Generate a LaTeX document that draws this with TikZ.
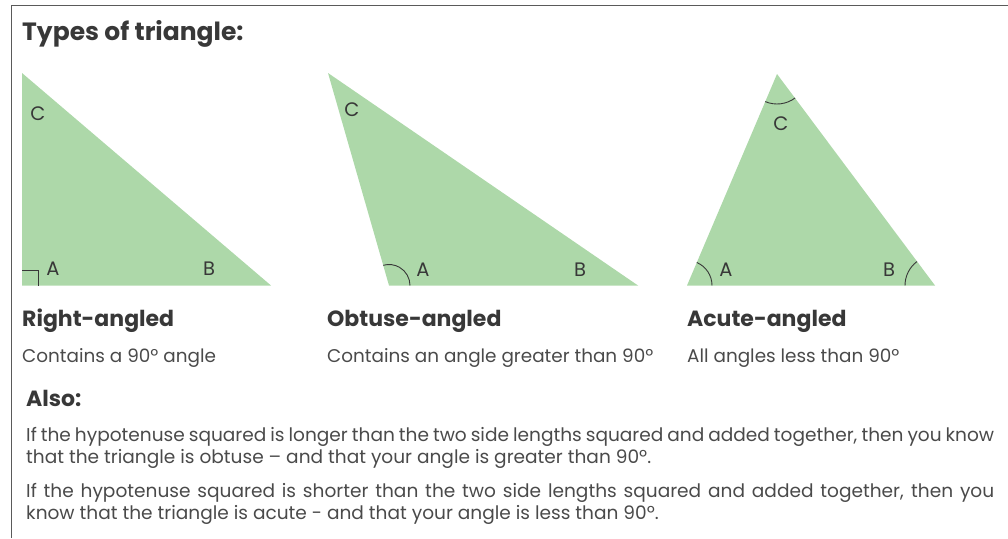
\documentclass[tikz,border=0pt]{standalone}
\usepackage{fontspec}
\setmainfont{Poppins}
\definecolor{trifill}{HTML}{ADD8A9}
\definecolor{headc}{HTML}{383838}
\definecolor{bodyc}{HTML}{4A4A4A}
\definecolor{framec}{HTML}{5A5A5A}
\begin{document}
\begin{tikzpicture}[x=1pt,y=-1pt,
  trishape/.style={fill=trifill,draw=none},
  vlabel/.style={font=\fontsize{19.5}{19.5}\selectfont, text=headc, inner sep=0pt, anchor=center},
  arcmark/.style={draw=headc, line width=0.9pt},
  titletext/.style={font=\fontsize{25}{25}\selectfont\bfseries, text=headc, anchor=base west, inner sep=0pt},
  heading/.style={font=\fontsize{22}{22}\selectfont\bfseries, text=headc, anchor=base west, inner sep=0pt},
  desc/.style={font=\fontsize{18.4}{18.4}\selectfont, text=bodyc, anchor=base west, inner sep=0pt},
  para/.style={font=\fontsize{18.55}{18.55}\selectfont, text=bodyc, anchor=base west, inner sep=0pt},
  framestyle/.style={draw=framec, line width=1.5pt}]
\useasboundingbox (0,0) rectangle (1008,538);
% frame
\draw[framestyle] (11.5,538) -- (11.5,5.5) -- (1008,5.5);
% title
\node[titletext] (title) at (22,40) {Types of triangle:};
% right-angled triangle
\coordinate (rC) at (22,73);
\coordinate (rA) at (22,285.5);
\coordinate (rB) at (271,285.5);
\fill[trishape] (rC) -- (rA) -- (rB) -- cycle;
\draw[arcmark] (22,270) -- (38,270) -- (38,285.5);
\node[vlabel] (rlC) at (38,114) {C};
\node[vlabel] (rlA) at (53,269) {A};
\node[vlabel] (rlB) at (209,269) {B};
% obtuse-angled triangle
\coordinate (oC) at (328,73);
\coordinate (oA) at (389,285.5);
\coordinate (oB) at (638,285.5);
\fill[trishape] (oC) -- (oA) -- (oB) -- cycle;
\draw[arcmark] ([shift={(0:21)}]oA) arc[start angle=0, end angle=-106, radius=21];
\node[vlabel] (olC) at (352,110) {C};
\node[vlabel] (olA) at (423,270) {A};
\node[vlabel] (olB) at (580,270) {B};
% acute-angled triangle
\coordinate (aC) at (777,74);
\coordinate (aA) at (687,285.5);
\coordinate (aB) at (935,285.5);
\fill[trishape] (aC) -- (aA) -- (aB) -- cycle;
\draw[arcmark] ([shift={(0:25)}]aA) arc[start angle=0, end angle=-67, radius=25];
\draw[arcmark] ([shift={(180:30)}]aB) arc[start angle=180, end angle=233, radius=30];
\draw[arcmark] ([shift={(113:30)}]aC) arc[start angle=113, end angle=53, radius=30];
\node[vlabel] (alC) at (781,124) {C};
\node[vlabel] (alA) at (726,270) {A};
\node[vlabel] (alB) at (889,270) {B};
% headings
\node[heading] (h1) at (22,326) {Right-angled};
\node[heading] (h2) at (327,326) {Obtuse-angled};
\node[heading] (h3) at (687,326) {Acute-angled};
% descriptions
\node[desc] (d1) at (22,362) {Contains a 90º angle};
\node[desc] (d2) at (327,362) {Contains an angle greater than 90º};
\node[desc] (d3) at (687,362) {All angles less than 90º};
% also
\node[heading] (also) at (26,406.5) {Also:};
\node[para] (p1a) at (26,441) {\makebox[968pt][s]{If the hypotenuse squared is longer than the two side lengths squared and added together, then you know}};
\node[para] (p1b) at (26,463) {that the triangle is obtuse – and that your angle is greater than 90º.};
\node[para] (p2a) at (26,497.5) {\makebox[968pt][s]{If the hypotenuse squared is shorter than the two side lengths squared and added together, then you}};
\node[para] (p2b) at (26,519.5) {know that the triangle is acute - and that your angle is less than 90º.};
\end{tikzpicture}
\end{document}
